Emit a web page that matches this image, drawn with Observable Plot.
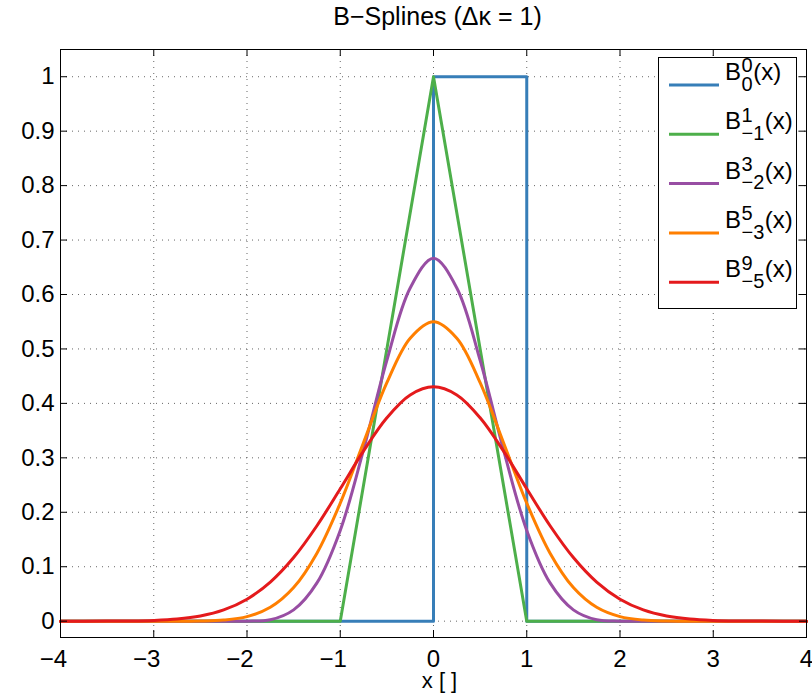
<!DOCTYPE html>
<html>
<head>
<meta charset="utf-8">
<script src="https://cdn.jsdelivr.net/npm/d3@7"></script>
<script src="https://cdn.jsdelivr.net/npm/@observablehq/plot@0.6"></script>
<style>
  html, body { margin: 0; padding: 0; background: #fff; overflow: hidden; }
  #chart { width: 812px; height: 698px; }
</style>
</head>
<body>
<div id="chart"></div>
<script>
// ---- data ----
const titleText = "B−Splines (Δκ = 1)";
const xLabel = "x [ ]";
const xTicks = [-4, -3, -2, -1, 0, 1, 2, 3, 4];
const xTickLabels = ["−4", "−3", "−2", "−1", "0", "1", "2", "3", "4"];
const yTicks = [0, 0.1, 0.2, 0.3, 0.4, 0.5, 0.6, 0.7, 0.8, 0.9, 1];
const yTickLabels = ["0", "0.1", "0.2", "0.3", "0.4", "0.5", "0.6", "0.7", "0.8", "0.9", "1"];

const seriesNames = ["B0", "B1", "B3", "B5", "B9"];
const seriesSup = ["0", "1", "3", "5", "9"];
const seriesSub = ["0", "−1", "−2", "−3", "−5"];
const seriesColors = ["#377eb8", "#4daf4a", "#984ea3", "#ff7f00", "#e41a1c"];

// degree 0 (box) and degree 1 (hat): corner points
const b0X = [-4, 0, 0, 1, 1, 4];
const b0Y = [0, 0, 1, 1, 0, 0];
const b1X = [-4, -1, 0, 1, 4];
const b1Y = [0, 0, 1, 0, 0];

// smooth splines sampled on a common x grid
const xs = [-4, -3.75, -3.5, -3.25, -3, -2.75, -2.5, -2.25, -2, -1.75, -1.5, -1.25, -1, -0.75, -0.5, -0.25,
            0, 0.25, 0.5, 0.75, 1, 1.25, 1.5, 1.75, 2, 2.25, 2.5, 2.75, 3, 3.25, 3.5, 3.75, 4];
const b3Y = [0, 0, 0, 0, 0, 0, 0, 0, 0, 0.0026, 0.0208, 0.0703, 0.1667, 0.3151, 0.4792, 0.6120,
             0.6667, 0.6120, 0.4792, 0.3151, 0.1667, 0.0703, 0.0208, 0.0026, 0, 0, 0, 0, 0, 0, 0, 0, 0];
const b5Y = [0, 0, 0, 0, 0, 0, 0.0003, 0.0020, 0.0083, 0.0254, 0.0617, 0.1249, 0.2167, 0.3281, 0.4380, 0.5197,
             0.5500, 0.5197, 0.4380, 0.3281, 0.2167, 0.1249, 0.0617, 0.0254, 0.0083, 0.0020, 0.0003, 0, 0, 0, 0, 0, 0];
const b9Y = [0, 0, 0.0001, 0.0004, 0.0014, 0.0039, 0.0095, 0.0206, 0.0403, 0.0717, 0.1168, 0.1753, 0.2432, 0.3127, 0.3736, 0.4155,
             0.4304, 0.4155, 0.3736, 0.3127, 0.2432, 0.1753, 0.1168, 0.0717, 0.0403, 0.0206, 0.0095, 0.0039, 0.0014, 0.0004, 0.0001, 0, 0];

// ---- build tables ----
const toPts = (X, Y) => X.map((x, i) => ({x, y: Y[i]}));
const series = [
  {pts: toPts(b0X, b0Y), curve: "linear"},
  {pts: toPts(b1X, b1Y), curve: "linear"},
  {pts: toPts(xs, b3Y), curve: "catmull-rom"},
  {pts: toPts(xs, b5Y), curve: "catmull-rom"},
  {pts: toPts(xs, b9Y), curve: "catmull-rom"}
];

// ---- layout ----
const W = 812, H = 698;
const mL = 60, mR = 6, mT = 49, mB = 61;
const frameW = W - mL - mR, frameH = H - mT - mB;
const tick = 7;
const font = "'Liberation Sans', Arial, Helvetica, sans-serif";
const fs = 24;

const gridStyle = {stroke: "#555", strokeWidth: 1, strokeDasharray: "1,5", strokeOpacity: 0.9};

const chart = Plot.plot({
  width: W, height: H,
  marginLeft: mL, marginRight: mR, marginTop: mT, marginBottom: mB,
  style: {fontFamily: font, fontSize: fs + "px", background: "#fff", color: "#000"},
  x: {domain: [-4, 4], axis: null},
  y: {domain: [-0.03, 1.05], axis: null},
  marks: [
    Plot.ruleX(xTicks, {x: d => d, ...gridStyle}),
    Plot.ruleY(yTicks, {y: d => d, ...gridStyle}),
    ...series.map((s, i) => Plot.line(s.pts, {x: "x", y: "y", stroke: seriesColors[i], strokeWidth: 3, curve: s.curve})),
    // inward ticks on all four sides
    Plot.ruleX(xTicks, {x: d => d, insetTop: frameH - tick, stroke: "#000"}),
    Plot.ruleX(xTicks, {x: d => d, insetBottom: frameH - tick, stroke: "#000"}),
    Plot.ruleY(yTicks, {y: d => d, insetRight: frameW - tick, stroke: "#000"}),
    Plot.ruleY(yTicks, {y: d => d, insetLeft: frameW - tick, stroke: "#000"}),
    // tick labels (digit centred on the tick, MATLAB style)
    Plot.text(xTicks, {x: d => d, text: d => xTickLabels[xTicks.indexOf(d)], frameAnchor: "bottom",
                       lineAnchor: "top", textAnchor: "end", dx: 6.7, dy: 12, fontSize: fs, fill: "#000"}),
    Plot.text(yTicks, {y: d => d, text: d => yTickLabels[yTicks.indexOf(d)], frameAnchor: "left",
                       textAnchor: "end", dx: -6, fontSize: fs, fill: "#000"}),
    Plot.frame({stroke: "#000", strokeWidth: 1}),
    Plot.text([titleText], {frameAnchor: "top", lineAnchor: "bottom", dy: -25, dx: 4, fontSize: 25, fill: "#000"}),
    Plot.text([xLabel], {frameAnchor: "bottom", lineAnchor: "bottom", dy: 50, dx: 6, fontSize: 22, fill: "#000"})
  ]
});
document.getElementById("chart").appendChild(chart);

// ---- legend (MATLAB-style box, top-right inside the axes) ----
const svg = d3.select(chart);
const lg = svg.append("g").attr("font-family", font).attr("fill", "#000").attr("text-anchor", "start");
const boxX = 658.5, boxY = 57.5, boxW = 138, boxH = 251;
lg.append("rect").attr("x", boxX).attr("y", boxY).attr("width", boxW).attr("height", boxH)
  .attr("fill", "#fff").attr("stroke", "#000").attr("stroke-width", 1);
const rowY0 = 85, rowStep = 49.3;
seriesNames.forEach((name, i) => {
  const y = rowY0 + i * rowStep;
  lg.append("line").attr("x1", 669).attr("x2", 719).attr("y1", y).attr("y2", y)
    .attr("stroke", seriesColors[i]).attr("stroke-width", 3);
  const tx = 725;
  const b = lg.append("text").attr("x", tx).attr("y", y - 5).attr("font-size", 24).attr("text-anchor", "start").text("B");
  const wB = b.node().getComputedTextLength();
  const sp = lg.append("text").attr("x", tx + wB + 0.5).attr("y", y - 12.6).attr("font-size", 20).attr("text-anchor", "start").text(seriesSup[i]);
  const sb = lg.append("text").attr("x", tx + wB + 0.5).attr("y", y + 5.7).attr("font-size", 20).attr("text-anchor", "start").text(seriesSub[i]);
  const wS = Math.max(sp.node().getComputedTextLength(), sb.node().getComputedTextLength());
  lg.append("text").attr("x", tx + wB + wS + 1).attr("y", y - 5).attr("font-size", 24).attr("text-anchor", "start").text("(x)");
});
</script>
</body>
</html>
